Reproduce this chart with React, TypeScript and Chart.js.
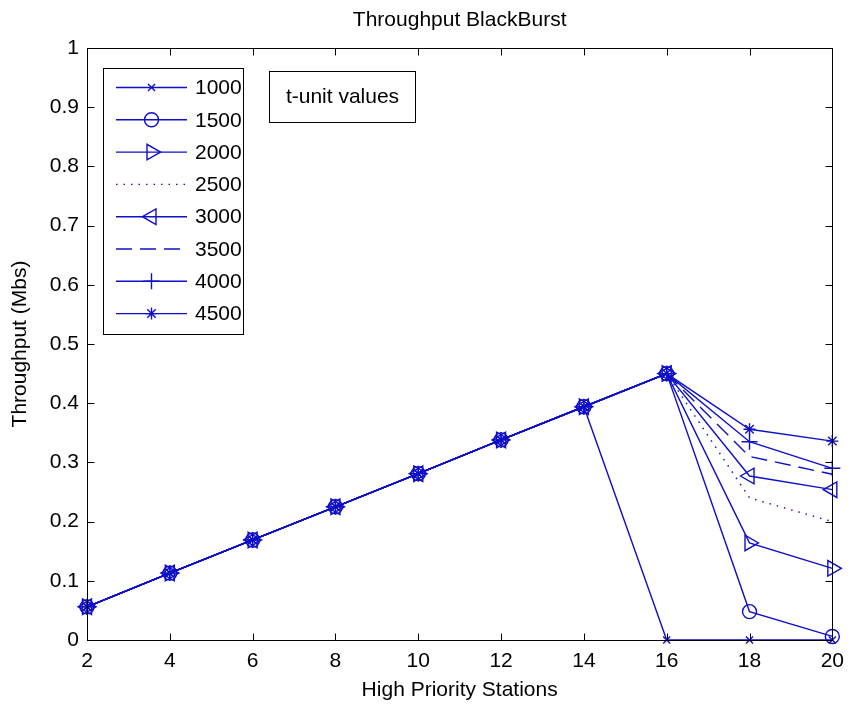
import React, { useEffect, useRef } from 'react';
import { Chart, registerables } from 'chart.js';
import { drawPoint } from 'chart.js/helpers';

Chart.register(...registerables);

// ---------- data ----------
const stations = [2, 4, 6, 8, 10, 12, 14, 16, 18, 20];
const seriesNames = ['1000', '1500', '2000', '2500', '3000', '3500', '4000', '4500'];
const t1000 = [0.056, 0.113, 0.169, 0.225, 0.281, 0.338, 0.394, 0.0, 0.0, 0.0];
const t1500 = [0.056, 0.113, 0.169, 0.225, 0.281, 0.338, 0.394, 0.45, 0.048, 0.006];
const t2000 = [0.056, 0.113, 0.169, 0.225, 0.281, 0.338, 0.394, 0.45, 0.164, 0.121];
const t2500 = [0.056, 0.113, 0.169, 0.225, 0.281, 0.338, 0.394, 0.45, 0.24, 0.2];
const t3000 = [0.056, 0.113, 0.169, 0.225, 0.281, 0.338, 0.394, 0.45, 0.277, 0.254];
const t3500 = [0.056, 0.113, 0.169, 0.225, 0.281, 0.338, 0.394, 0.45, 0.31, 0.28];
const t4000 = [0.056, 0.113, 0.169, 0.225, 0.281, 0.338, 0.394, 0.45, 0.335, 0.29];
const t4500 = [0.056, 0.113, 0.169, 0.225, 0.281, 0.338, 0.394, 0.45, 0.356, 0.336];
const seriesValues = [t1000, t1500, t2000, t2500, t3000, t3500, t4000, t4500];
const xTickValues = [2, 4, 6, 8, 10, 12, 14, 16, 18, 20];
const yTickValues = [0, 0.1, 0.2, 0.3, 0.4, 0.5, 0.6, 0.7, 0.8, 0.9, 1];
const titleText = 'Throughput BlackBurst';
const xLabel = 'High Priority Stations';
const yLabel = 'Throughput (Mbs)';
const noteText = 't-unit values';

// ---------- styles ----------
const BLUE = 'rgb(15,15,200)';
const LW = 1.4;
const FONT = "'Liberation Sans', Arial, sans-serif";
const pointStyles: any[] = ['crossRot', 'circle', 'triangle', false, 'triangle', false, 'cross', 'star'];
const pointRotations = [0, 0, 90, 0, 270, 0, 0, 0];
const pointRadii = [5, 7, 9, 0, 9, 0, 8, 6];
const dashes: number[][] = [[], [], [], [1.5, 6], [], [16, 8], [], []];

const overlay = {
  id: 'overlay',
  afterDraw(chart: any) {
    const { ctx, chartArea: a, scales } = chart;
    const xs = scales.x;
    const ys = scales.y;
    ctx.save();
    ctx.strokeStyle = '#000';
    ctx.lineWidth = 1;
    const L = Math.round(a.left) + 0.5;
    const R = Math.round(a.right) + 0.5;
    const T = Math.round(a.top) + 0.5;
    const B = Math.round(a.bottom) + 0.5;
    ctx.strokeRect(L, T, R - L, B - T);
    const TL = 7;
    ctx.beginPath();
    xTickValues.forEach((v) => {
      const px = Math.round(xs.getPixelForValue(v)) + 0.5;
      ctx.moveTo(px, B); ctx.lineTo(px, B - TL);
      ctx.moveTo(px, T); ctx.lineTo(px, T + TL);
    });
    yTickValues.forEach((v) => {
      const py = Math.round(ys.getPixelForValue(v)) + 0.5;
      ctx.moveTo(L, py); ctx.lineTo(L + TL, py);
      ctx.moveTo(R, py); ctx.lineTo(R - TL, py);
    });
    ctx.stroke();

    // legend box
    const lx = 103.5, ly = 68.5, lw = 140, lh = 266;
    ctx.fillStyle = '#fff';
    ctx.fillRect(lx, ly, lw, lh);
    ctx.strokeStyle = '#000';
    ctx.strokeRect(lx, ly, lw, lh);
    seriesNames.forEach((name, i) => {
      const yy = 87.5 + i * 32.3;
      ctx.save();
      ctx.strokeStyle = BLUE;
      ctx.lineWidth = LW;
      ctx.setLineDash(dashes[i]);
      ctx.beginPath();
      ctx.moveTo(116, yy);
      ctx.lineTo(187, yy);
      ctx.stroke();
      ctx.setLineDash([]);
      if (pointStyles[i]) {
        ctx.fillStyle = 'rgba(0,0,0,0)';
        drawPoint(ctx, {
          pointStyle: pointStyles[i],
          rotation: pointRotations[i],
          radius: pointRadii[i],
          borderWidth: LW,
        } as any, 151.5, yy);
      }
      ctx.restore();
      ctx.fillStyle = '#000';
      ctx.font = `21px ${FONT}`;
      ctx.textAlign = 'left';
      ctx.textBaseline = 'middle';
      ctx.fillText(name, 195, yy + 1);
    });

    // note box
    ctx.fillStyle = '#fff';
    ctx.fillRect(269.5, 71.5, 146, 51);
    ctx.strokeStyle = '#000';
    ctx.strokeRect(269.5, 71.5, 146, 51);
    ctx.fillStyle = '#000';
    ctx.font = `21px ${FONT}`;
    ctx.textAlign = 'center';
    ctx.textBaseline = 'middle';
    ctx.fillText(noteText, 342.5, 97);

    // title and axis labels
    const cx = (a.left + a.right) / 2;
    ctx.fillText(titleText, cx, 20);
    ctx.fillText(xLabel, cx, 690);
    ctx.save();
    ctx.translate(20, (a.top + a.bottom) / 2);
    ctx.rotate(-Math.PI / 2);
    ctx.fillText(yLabel, 0, 0);
    ctx.restore();
    ctx.restore();
  },
};

export default function App() {
  const ref = useRef<HTMLCanvasElement>(null);
  useEffect(() => {
    if (!ref.current) return;
    const datasets = seriesNames.map((name, i) => ({
      label: name,
      data: stations.map((x, j) => ({ x, y: seriesValues[i][j] })),
      borderColor: BLUE,
      backgroundColor: 'rgba(0,0,0,0)',
      borderWidth: LW,
      borderDash: dashes[i],
      pointStyle: pointStyles[i],
      pointRotation: pointRotations[i],
      pointRadius: pointRadii[i],
      pointBorderColor: BLUE,
      pointBackgroundColor: 'rgba(0,0,0,0)',
      pointBorderWidth: LW,
      tension: 0,
      clip: false as any,
    }));
    const chart = new Chart(ref.current, {
      type: 'line',
      data: { datasets },
      options: {
        animation: false,
        responsive: false,
        devicePixelRatio: 1,
        layout: { padding: { top: 48, right: 13, left: 0, bottom: 0 } },
        plugins: { legend: { display: false }, title: { display: false }, tooltip: { enabled: false } },
        scales: {
          x: {
            type: 'linear',
            min: 2,
            max: 20,
            afterBuildTicks: (s: any) => { s.ticks = xTickValues.map((v) => ({ value: v })); },
            afterFit: (s: any) => { s.height = 64; },
            grid: { display: false, drawTicks: false },
            border: { display: false },
            ticks: { color: '#000', font: { family: FONT, size: 21 }, padding: 9, maxRotation: 0, autoSkip: false,
              callback: (v: any) => String(v) },
          },
          y: {
            type: 'linear',
            min: 0,
            max: 1,
            afterBuildTicks: (s: any) => { s.ticks = yTickValues.map((v) => ({ value: v })); },
            afterFit: (s: any) => { s.width = 87; },
            grid: { display: false, drawTicks: false },
            border: { display: false },
            ticks: { color: '#000', font: { family: FONT, size: 21 }, padding: 8, autoSkip: false,
              callback: (v: any) => String(Math.round(v * 10) / 10) },
          },
        },
      },
      plugins: [overlay],
    });
    return () => chart.destroy();
  }, []);
  return (
    <div style={{ position: 'fixed', left: 0, top: 0, width: 853, height: 704, background: '#fff' }}>
      <canvas ref={ref} width={853} height={704} style={{ width: 853, height: 704, display: 'block' }} />
    </div>
  );
}
